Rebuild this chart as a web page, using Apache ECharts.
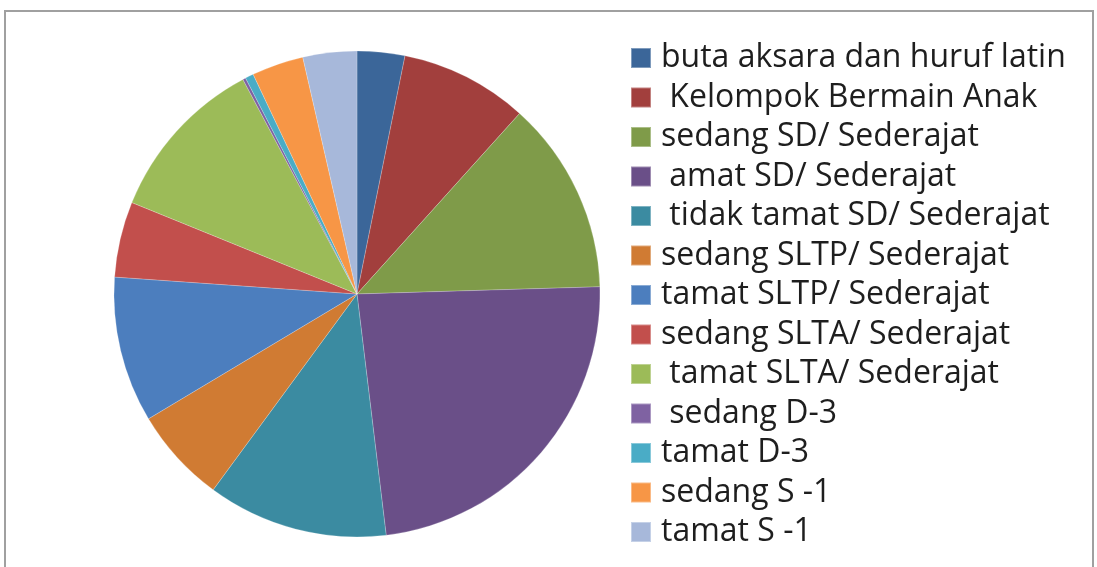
<!DOCTYPE html>
<html>
<head>
<meta charset="utf-8">
<script src="https://cdn.jsdelivr.net/npm/echarts@6/dist/echarts.min.js"></script>
<style>
html,body{margin:0;padding:0;background:#fff;}
#chart{width:1097px;height:567px;}
</style>
</head>
<body>
<div id="chart"></div>
<script>
const categories = [
  'buta aksara dan huruf latin',
  ' Kelompok Bermain Anak',
  'sedang SD/ Sederajat',
  ' amat SD/ Sederajat',
  ' tidak tamat SD/ Sederajat',
  'sedang SLTP/ Sederajat',
  'tamat SLTP/ Sederajat',
  'sedang SLTA/ Sederajat',
  ' tamat SLTA/ Sederajat',
  ' sedang D-3',
  'tamat D-3',
  'sedang S -1',
  'tamat S -1'
];
const values = [11.4, 30.6, 46.3, 84.8, 43.2, 22.8, 34.9, 18.1, 39.9, 0.7, 2.0, 12.4, 12.9];
const colors = ['#3B6699','#A23F3D','#7F9B49','#6A4F88','#3B8BA1','#D07B33',
                '#4C7EBE','#C24F4C','#9CBB58','#7F62A2','#4AACC6','#F79646','#A7B8DA'];

const chart = echarts.init(document.getElementById('chart'));
chart.setOption({
  animation: false,
  backgroundColor: '#fff',
  color: colors,
  graphic: [{
    type: 'rect',
    shape: {x: 5, y: 11, width: 1088, height: 620},
    style: {fill: 'none', stroke: '#a0a0a0', lineWidth: 2},
    silent: true
  }],
  legend: {
    orient: 'vertical',
    left: 630,
    top: 42,
    height: 525,
    padding: 0,
    itemWidth: 20,
    itemHeight: 20,
    itemGap: 7.5,
    icon: 'rect',
    textStyle: {fontFamily: 'Open Sans', fontSize: 32, lineHeight: 32, color: '#1e1e1e', padding: [0,0,0,5]},
    data: categories
  },
  series: [{
    type: 'pie',
    center: [357, 294],
    radius: 243,
    startAngle: 90,
    clockwise: true,
    label: {show: false},
    labelLine: {show: false},
    itemStyle: {borderColor: 'rgba(255,255,255,0.35)', borderWidth: 0.6},
    data: categories.map((c, i) => ({name: c, value: values[i], itemStyle: {color: colors[i]}}))
  }]
});
</script>
</body>
</html>
